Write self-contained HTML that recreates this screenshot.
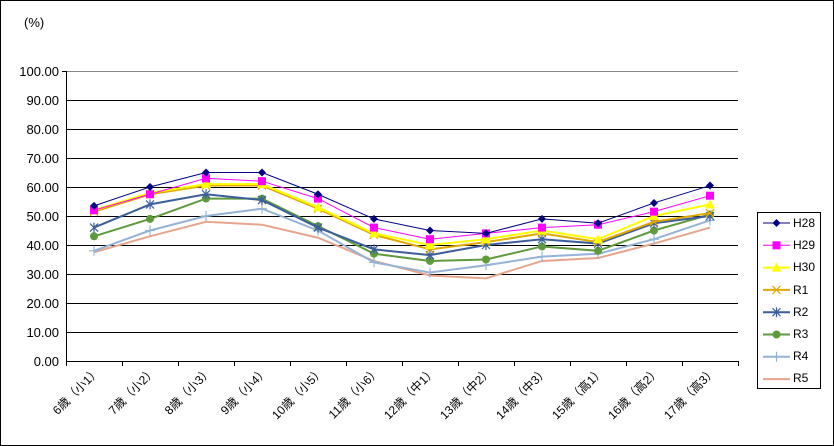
<!DOCTYPE html>
<html><head><meta charset="utf-8"><style>
body{margin:0;background:#fff}
svg{display:block;font-family:"Liberation Sans","Noto Sans CJK JP",sans-serif}
</style></head><body>
<svg id="s" width="834" height="446" viewBox="0 0 834 446">
<rect x="0.5" y="0.5" width="833" height="445" fill="#fff" stroke="#000"/>
<text x="24" y="27" font-size="13">(%)</text>
<g stroke="#000" stroke-width="1">
<line x1="67" y1="71.5" x2="738" y2="71.5" stroke="#888"/>
<line x1="67" y1="100.5" x2="738" y2="100.5"/>
<line x1="67" y1="129.5" x2="738" y2="129.5"/>
<line x1="67" y1="158.5" x2="738" y2="158.5"/>
<line x1="67" y1="187.5" x2="738" y2="187.5"/>
<line x1="67" y1="216.5" x2="738" y2="216.5"/>
<line x1="67" y1="245.5" x2="738" y2="245.5"/>
<line x1="67" y1="274.5" x2="738" y2="274.5"/>
<line x1="67" y1="303.5" x2="738" y2="303.5"/>
<line x1="67" y1="332.5" x2="738" y2="332.5"/>
<line x1="67" y1="361.5" x2="738" y2="361.5"/>
<line x1="66.5" y1="71" x2="66.5" y2="362"/>
<line x1="62" y1="71.5" x2="67" y2="71.5"/>
</g>
<g font-size="13" text-anchor="end">
<text x="59" y="76">100.00</text><text x="59" y="105">90.00</text><text x="59" y="134">80.00</text>
<text x="59" y="163">70.00</text><text x="59" y="192">60.00</text><text x="59" y="221">50.00</text>
<text x="59" y="250">40.00</text><text x="59" y="279">30.00</text><text x="59" y="308">20.00</text>
<text x="59" y="337">10.00</text><text x="59" y="366">0.00</text>
</g>
<g id="ticks" stroke="#000"></g>
<g font-size="12" text-anchor="end">
<text transform="translate(101,372) rotate(-45)">6歳（小1）</text>
<text transform="translate(157,372) rotate(-45)">7歳（小2）</text>
<text transform="translate(213,372) rotate(-45)">8歳（小3）</text>
<text transform="translate(269,372) rotate(-45)">9歳（小4）</text>
<text transform="translate(325,372) rotate(-45)">10歳（小5）</text>
<text transform="translate(381,372) rotate(-45)">11歳（小6）</text>
<text transform="translate(437,372) rotate(-45)">12歳（中1）</text>
<text transform="translate(493,372) rotate(-45)">13歳（中2）</text>
<text transform="translate(549,372) rotate(-45)">14歳（中3）</text>
<text transform="translate(605,372) rotate(-45)">15歳（高1）</text>
<text transform="translate(661,372) rotate(-45)">16歳（高2）</text>
<text transform="translate(717,372) rotate(-45)">17歳（高3）</text>
</g>
<g id="series"></g>
<rect x="757.5" y="212.5" width="63" height="176" fill="#fff" stroke="#000"/>
<g id="leg"></g>
<g font-size="12">
<text x="793" y="227">H28</text><text x="793" y="249">H29</text><text x="793" y="271">H30</text>
<text x="793" y="294">R1</text><text x="793" y="316">R2</text><text x="793" y="338">R3</text>
<text x="793" y="360">R4</text><text x="793" y="382">R5</text>
</g>
</svg>
<script>
var NS="http://www.w3.org/2000/svg";
function el(p,t,a){var e=document.createElementNS(NS,t);for(var k in a)e.setAttribute(k,a[k]);p.appendChild(e);return e;}
var tk=document.getElementById('ticks');
for(var i=0;i<=12;i++){var x=66.5+56*i;el(tk,'line',{x1:x,y1:361,x2:x,y2:366});}
var S=[
["#000080",1,"dia",[53.5,60,65,65,57.5,49,45,44,49,47.5,54.5,60.5]],
["#ff00ff",1,"sq",[52,57.5,63,62,56,46,42,44,46,47,51.5,57]],
["#ffff00",2,"tri",[52,58,61,61,53,44,40,42,45,42,50,54]],
["#e0a800",2,"x",[51.5,57.5,60.5,60.5,52.5,43.5,38.5,41,44,41,48,51]],
["#3c5f9c",2,"star",[46,54,57.5,55.5,46,38.5,36.5,40,42,40.5,47.5,50]],
["#5f9a3c",2,"circ",[43,49,56,56,46.5,37,34.5,35,39.5,38,45,50.5]],
["#95b3d7",2,"plus",[38,45,50,52.5,45,34,30.5,33,36,37,42,48.5]],
["#e6a58c",2,"none",[37.5,43,48,47,42.5,34.5,29.5,28.5,34.5,35.5,40.5,46]]];
function mark(g,m,x,y,c){
 if(m=="dia")el(g,'polygon',{points:(x)+","+(y-4)+" "+(x+4)+","+y+" "+x+","+(y+4)+" "+(x-4)+","+y,fill:c});
 else if(m=="sq")el(g,'rect',{x:x-4,y:y-4,width:8,height:8,fill:c});
 else if(m=="tri")el(g,'polygon',{points:x+","+(y-5)+" "+(x+5)+","+(y+4)+" "+(x-5)+","+(y+4),fill:c});
 else if(m=="x"){el(g,'path',{d:"M"+(x-4)+" "+(y-4)+"L"+(x+4)+" "+(y+4)+"M"+(x+4)+" "+(y-4)+"L"+(x-4)+" "+(y+4),stroke:c,"stroke-width":1.2});}
 else if(m=="star"){el(g,'path',{d:"M"+(x-4)+" "+(y-4)+"L"+(x+4)+" "+(y+4)+"M"+(x+4)+" "+(y-4)+"L"+(x-4)+" "+(y+4)+"M"+x+" "+(y-5)+"L"+x+" "+(y+5),stroke:c,"stroke-width":1.2});}
 else if(m=="circ")el(g,'circle',{cx:x,cy:y,r:4,fill:c});
 else if(m=="plus")el(g,'path',{d:"M"+(x-5)+" "+y+"L"+(x+5)+" "+y+"M"+x+" "+(y-5)+"L"+x+" "+(y+5),stroke:c,"stroke-width":1.2});
}
var g=document.getElementById('series'),L=document.getElementById('leg');
for(var s=S.length-1;s>=0;s--){var d=S[s],pts=[];
 for(var i=0;i<12;i++)pts.push([94+56*i,361-2.9*d[3][i]]);
 el(g,'polyline',{points:pts.map(function(p){return p.join(',')}).join(' '),fill:'none',stroke:d[0],'stroke-width':d[1]});
 pts.forEach(function(p){mark(g,d[2],p[0],p[1],d[0]);});
 var ly=223+22.3*s;
 el(L,'line',{x1:763,y1:ly,x2:790,y2:ly,stroke:d[0],'stroke-width':d[1]});
 mark(L,d[2],776.5,ly,d[0]);
}
</script>
</body></html>
